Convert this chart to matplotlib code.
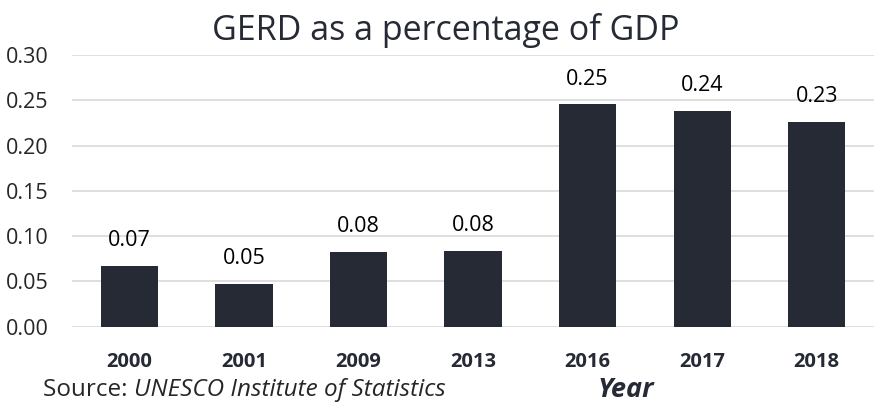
import numpy as np
import matplotlib.pyplot as plt

# data
years = ["2000", "2001", "2009", "2013", "2016", "2017", "2018"]
gerd = [0.067, 0.047, 0.0825, 0.0836, 0.2455, 0.238, 0.226]
yticks = [0.00, 0.05, 0.10, 0.15, 0.20, 0.25, 0.30]

plt.rcParams['font.family'] = ['Open Sans', 'DejaVu Sans']
bar_color = "#252a35"
text_color = "#262626"

W, H = 875, 403
fig = plt.figure(figsize=(W / 100, H / 100), dpi=100)
ax = fig.add_axes([72 / W, 1 - 326.7 / H, 802 / W, 271.7 / H])

x = np.arange(len(years))
ax.bar(x, gerd, width=0.5, color=bar_color, zorder=3)
for xi, v in zip(x, gerd):
    ax.text(xi, v + 0.0278, f"{v:.2f}", ha="center", va="center",
            fontsize=15.5, color="black")

ax.set_xlim(-0.5, len(years) - 0.5)
ax.set_ylim(0, 0.30)
ax.set_yticks(yticks)
ax.set_yticklabels([f"{t:.2f}" for t in yticks], fontsize=15.5, color=text_color)
ax.set_xticks(x)
ax.set_xticklabels(years, fontsize=14.5, fontweight="bold", color=bar_color)
ax.tick_params(axis="both", length=0)
ax.tick_params(axis="x", pad=18)
ax.tick_params(axis="y", pad=17)
ax.grid(axis="y", color="#d9d9d9", linewidth=1.2, zorder=0)
for s in ax.spines.values():
    s.set_visible(False)

fig.text(446 / W, 1 - 30 / H, "GERD as a percentage of GDP", ha="center",
         va="center", fontsize=24.5, color=bar_color)

# source line: regular prefix followed by italic name
src = fig.text(43 / W, 1 - 390 / H, "Source: ", ha="left", va="center",
               fontsize=17.5, color=text_color)
fig.canvas.draw()
bb = src.get_window_extent(renderer=fig.canvas.get_renderer())
fig.text(bb.x1 / W, 1 - 390 / H, "UNESCO Institute of Statistics", ha="left",
         va="center", fontsize=17.5, style="italic", color=text_color)
fig.text(626 / W, 1 - 390 / H, "Year", ha="center", va="center",
         fontsize=19.5, style="italic", fontweight="bold", color=bar_color)

fig.savefig("out.png", dpi=100)
